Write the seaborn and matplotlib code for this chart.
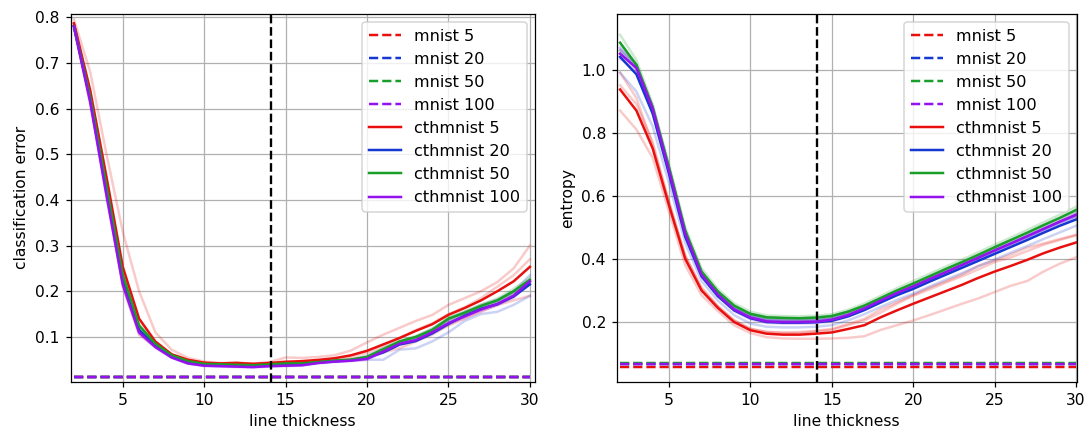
import matplotlib
matplotlib.use('Agg')
import matplotlib.pyplot as plt
import seaborn as sns
import pandas as pd
from matplotlib.lines import Line2D

thickness = list(range(2, 31))
models = ['cthmnist 5', 'cthmnist 20', 'cthmnist 50', 'cthmnist 100']
baselines = ['mnist 5', 'mnist 20', 'mnist 50', 'mnist 100']
colors = ['#e8100e', '#1438d0', '#1a9e2a', '#9412ee']
split_at = 14.1

# classification error, three runs per model
err_c5 = [
    [.795, .68, .50, .33, .20, .11, .072, .054, .046, .043, .043, .042, .045, .055, .054, .056, .06, .07, .088, .105, .12, .135, .148, .17, .185, .20, .22, .25, .30],
    [.785, .63, .43, .22, .115, .082, .058, .049, .043, .042, .044, .041, .043, .042, .045, .048, .052, .057, .065, .08, .098, .115, .13, .15, .165, .185, .21, .235, .27],
    [.78, .61, .42, .21, .105, .078, .056, .047, .042, .041, .042, .040, .041, .040, .042, .045, .048, .052, .056, .066, .075, .09, .105, .125, .14, .155, .17, .18, .19],
]
err_c20 = [
    [.78, .625, .425, .23, .118, .082, .058, .046, .04, .039, .038, .037, .039, .04, .041, .045, .048, .05, .058, .075, .09, .1, .118, .14, .155, .17, .182, .2, .235],
    [.78, .62, .42, .225, .115, .08, .057, .045, .039, .038, .037, .036, .038, .039, .04, .044, .047, .049, .056, .073, .088, .098, .115, .135, .15, .165, .177, .195, .22],
    [.78, .615, .415, .22, .112, .078, .056, .044, .038, .037, .036, .035, .037, .038, .039, .043, .046, .048, .05, .05, .072, .075, .09, .11, .135, .15, .155, .17, .19],
]
err_c50 = [
    [.785, .63, .435, .24, .128, .087, .061, .048, .042, .041, .04, .039, .041, .043, .043, .046, .049, .051, .058, .075, .092, .102, .118, .143, .156, .171, .184, .205, .23],
    [.78, .625, .43, .235, .125, .085, .06, .047, .041, .04, .039, .038, .04, .042, .042, .045, .048, .05, .056, .073, .09, .1, .115, .14, .153, .168, .18, .2, .225],
    [.775, .62, .425, .23, .122, .083, .059, .046, .04, .039, .038, .037, .039, .041, .041, .044, .047, .049, .054, .071, .088, .098, .112, .137, .15, .165, .176, .195, .22],
]
err_c100 = [
    [.785, .62, .415, .22, .113, .08, .056, .043, .038, .037, .036, .035, .037, .038, .039, .044, .047, .049, .054, .07, .087, .095, .113, .133, .148, .163, .175, .194, .226],
    [.78, .615, .41, .215, .11, .078, .055, .042, .037, .036, .035, .034, .036, .037, .038, .043, .046, .048, .052, .068, .085, .093, .11, .13, .145, .16, .172, .19, .222],
    [.775, .61, .405, .21, .107, .076, .054, .041, .036, .035, .034, .033, .035, .036, .037, .042, .045, .047, .05, .066, .083, .091, .107, .127, .142, .157, .169, .186, .218],
]
err_mnist = [0.0125, 0.012, 0.0125, 0.0125]

# entropy, three runs per model
ent_c5 = [
    [.87, .81, .72, .55, .38, .285, .235, .19, .165, .152, .148, .147, .147, .148, .15, .155, .175, .19, .205, .222, .24, .258, .275, .295, .315, .33, .36, .385, .405],
    [.95, .89, .77, .58, .41, .305, .25, .205, .178, .168, .165, .165, .17, .175, .19, .205, .23, .258, .283, .303, .325, .345, .367, .39, .405, .425, .445, .46, .475],
    [.99, .91, .76, .58, .41, .31, .25, .205, .179, .169, .167, .168, .172, .178, .194, .21, .24, .263, .286, .309, .329, .351, .378, .395, .414, .436, .449, .463, .476],
]
ent_c20 = [
    [1.06, 1.01, .88, .69, .48, .353, .289, .245, .222, .209, .207, .207, .207, .211, .225, .245, .27, .293, .313, .337, .359, .381, .403, .426, .448, .47, .494, .517, .535],
    [1.07, 1.015, .88, .68, .48, .352, .289, .244, .219, .206, .204, .204, .205, .211, .224, .244, .268, .292, .312, .335, .357, .38, .402, .424, .446, .469, .492, .514, .535],
    [.99, .93, .82, .64, .45, .33, .268, .222, .195, .185, .183, .183, .185, .19, .205, .225, .248, .27, .29, .312, .334, .355, .377, .398, .42, .441, .463, .484, .505],
]
ent_c50 = [
    [1.11, 1.03, .89, .70, .50, .37, .305, .259, .233, .221, .219, .218, .22, .225, .239, .259, .283, .307, .33, .353, .376, .398, .421, .445, .468, .492, .516, .54, .565],
    [1.085, 1.015, .88, .69, .49, .36, .297, .252, .226, .215, .213, .212, .214, .219, .233, .252, .276, .3, .322, .345, .368, .39, .413, .437, .46, .483, .507, .53, .555],
    [1.06, 1.0, .87, .68, .48, .35, .289, .245, .219, .209, .207, .206, .208, .213, .227, .245, .269, .293, .314, .337, .36, .382, .405, .429, .452, .474, .498, .52, .545],
]
ent_c100 = [
    [1.065, 1.015, .885, .69, .488, .356, .292, .245, .219, .207, .205, .205, .206, .212, .227, .248, .273, .297, .318, .341, .363, .386, .409, .432, .454, .477, .5, .523, .546],
    [1.05, 1.005, .875, .68, .48, .35, .287, .24, .214, .202, .2, .2, .201, .207, .222, .243, .268, .292, .313, .336, .358, .381, .404, .427, .449, .472, .495, .518, .54],
    [1.035, .995, .865, .67, .472, .344, .282, .235, .209, .197, .195, .195, .196, .202, .217, .238, .263, .287, .308, .331, .353, .376, .399, .422, .444, .467, .49, .513, .534],
]
ent_mnist = [0.056, 0.066, 0.069, 0.066]


def long_frame(runs_per_model):
    rows = []
    for name, runs in zip(models, runs_per_model):
        for r, vals in enumerate(runs):
            for t, v in zip(thickness, vals):
                rows.append((name, r, t, v))
    return pd.DataFrame(rows, columns=['model', 'run', 'thickness', 'value'])


def draw_panel(ax, df, mnist_vals, ylabel):
    pal = dict(zip(models, colors))
    for name, v, c in zip(baselines, mnist_vals, colors):
        ax.plot(thickness, [v] * len(thickness), ls='--', color=c, lw=1.6)
    sns.lineplot(data=df, x='thickness', y='value', hue='model', hue_order=models,
                 units='run', estimator=None, palette=pal, alpha=0.22, lw=1.6,
                 legend=False, ax=ax)
    sns.lineplot(data=df, x='thickness', y='value', hue='model', hue_order=models,
                 errorbar=None, palette=pal, lw=1.6, legend=False, ax=ax)
    ax.axvline(split_at, color='k', ls='--', lw=1.5)
    ax.grid(True, color='#b0b0b0', lw=0.8)
    ax.set_xlabel('line thickness')
    ax.set_ylabel(ylabel)
    handles = [Line2D([], [], color=c, ls='--', lw=1.6) for c in colors]
    handles += [Line2D([], [], color=c, lw=1.6) for c in colors]
    ax.legend(handles, baselines + models, loc='upper right', fontsize=10.4)


fig = plt.figure(figsize=(1086 / 112, 429 / 112), dpi=112)
ax1 = fig.add_axes([0.0651, 0.1103, 0.4273, 0.8571])
ax2 = fig.add_axes([0.568, 0.1103, 0.4235, 0.8571])

draw_panel(ax1, long_frame([err_c5, err_c20, err_c50, err_c100]), err_mnist, 'classification error')
ax1.set_xlim(1.8, 30.3)
ax1.set_ylim(0.002, 0.807)

draw_panel(ax2, long_frame([ent_c5, ent_c20, ent_c50, ent_c100]), ent_mnist, 'entropy')
ax2.set_xlim(1.8, 30.04)
ax2.set_ylim(0.011, 1.176)

fig.savefig('out.png', dpi=112)
